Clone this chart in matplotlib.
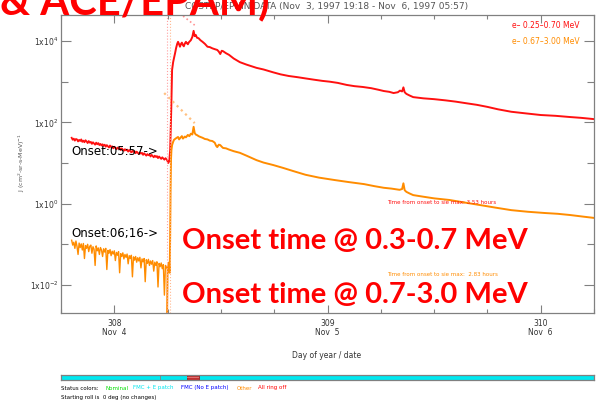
import numpy as np
import matplotlib
matplotlib.use('Agg')
import matplotlib.pyplot as plt
from matplotlib.patches import Rectangle

W, H = 608, 401

# time in day of year (1997), before onset
pre_t = [307.800, 307.805, 307.810, 307.815, 307.820, 307.825, 307.830, 307.835, 307.840, 307.845,
         307.850, 307.855, 307.860, 307.865, 307.870, 307.875, 307.880, 307.885, 307.890, 307.895,
         307.900, 307.905, 307.910, 307.915, 307.920, 307.925, 307.930, 307.935, 307.940, 307.945,
         307.950, 307.955, 307.960, 307.965, 307.970, 307.975, 307.980, 307.985, 307.990, 307.995,
         308.000, 308.005, 308.010, 308.015, 308.020, 308.025, 308.030, 308.035, 308.040, 308.045,
         308.050, 308.055, 308.060, 308.065, 308.070, 308.075, 308.080, 308.085, 308.090, 308.095,
         308.100, 308.105, 308.110, 308.115, 308.120, 308.125, 308.130, 308.135, 308.140, 308.145,
         308.150, 308.155, 308.160, 308.165, 308.170, 308.175, 308.180, 308.185, 308.190, 308.195,
         308.200, 308.205, 308.210, 308.215, 308.220, 308.225, 308.230, 308.235, 308.240, 308.245]

# log10 of intensity, e- 0.25-0.70 MeV, before onset
red_pre = [1.62, 1.57, 1.60, 1.55, 1.59, 1.58, 1.53, 1.57, 1.54, 1.58,
           1.52, 1.55, 1.51, 1.56, 1.53, 1.49, 1.54, 1.50, 1.52, 1.47,
           1.51, 1.48, 1.45, 1.50, 1.46, 1.49, 1.44, 1.47, 1.43, 1.46,
           1.42, 1.45, 1.40, 1.44, 1.41, 1.38, 1.43, 1.39, 1.41, 1.36,
           1.40, 1.37, 1.34, 1.38, 1.35, 1.37, 1.32, 1.36, 1.33, 1.30,
           1.34, 1.31, 1.33, 1.28, 1.32, 1.29, 1.26, 1.30, 1.27, 1.29,
           1.24, 1.28, 1.25, 1.22, 1.26, 1.23, 1.25, 1.20, 1.24, 1.21,
           1.18, 1.22, 1.19, 1.21, 1.16, 1.20, 1.17, 1.14, 1.18, 1.15,
           1.17, 1.12, 1.16, 1.13, 1.10, 1.14, 1.11, 1.08, 1.12, 1.09]

# log10 of intensity, e- 0.67-3.00 MeV, before onset
org_pre = [-0.90, -1.02, -0.95, -1.10, -0.92, -1.05, -1.25, -0.97, -1.08, -0.99,
           -1.14, -0.98, -1.35, -1.03, -1.10, -1.00, -1.18, -1.05, -1.02, -1.22,
           -1.06, -1.12, -1.52, -1.04, -1.16, -1.09, -1.25, -1.08, -1.14, -1.30,
           -1.11, -1.19, -1.10, -1.62, -1.15, -1.22, -1.13, -1.28, -1.17, -1.24,
           -1.16, -1.40, -1.20, -1.27, -1.18, -1.70, -1.23, -1.30, -1.21, -1.36,
           -1.25, -1.32, -1.24, -1.48, -1.28, -1.35, -1.27, -1.80, -1.31, -1.39,
           -1.30, -1.44, -1.33, -1.41, -1.32, -1.58, -1.36, -1.43, -1.35, -1.92,
           -1.38, -1.47, -1.37, -1.52, -1.41, -1.49, -1.40, -1.66, -1.44, -1.52,
           -1.43, -2.05, -1.47, -1.55, -1.46, -1.60, -1.50, -2.25, -1.52, -1.58]

red_evt_t = [308.248, 308.253, 308.258, 308.262, 308.265, 308.267, 308.271, 308.276, 308.280, 308.285,
             308.290, 308.295, 308.299, 308.304, 308.308, 308.313, 308.317, 308.322, 308.326, 308.331,
             308.336, 308.340, 308.345, 308.350, 308.359, 308.366, 308.372, 308.377, 308.382, 308.388,
             308.395, 308.404, 308.414, 308.425, 308.437, 308.448, 308.460, 308.471, 308.483, 308.490,
             308.497, 308.504, 308.510, 308.524, 308.538, 308.560, 308.589, 308.620, 308.667, 308.700,
             308.745, 308.780, 308.818, 308.860, 308.897, 308.935, 308.975, 309.010, 309.048, 309.090,
             309.126, 309.165, 309.205, 309.240, 309.264, 309.290, 309.310, 309.330, 309.340, 309.350,
             309.356, 309.362, 309.370, 309.385, 309.402, 309.450, 309.500, 309.554, 309.600, 309.650,
             309.701, 309.750, 309.800, 309.862, 309.930, 310.000, 310.070, 310.138, 310.190, 310.248]
red_evt = [1.07, 1.00, 1.05, 1.32, 1.90, 2.30, 3.29, 3.48, 3.58, 3.70,
           3.83, 3.93, 3.98, 3.92, 3.86, 3.93, 3.96, 3.90, 3.87, 3.94,
           3.98, 3.95, 3.92, 3.97, 4.02, 4.10, 4.25, 4.12, 4.15, 4.08,
           4.07, 4.02, 3.98, 3.93, 3.86, 3.85, 3.82, 3.80, 3.78, 3.74,
           3.68, 3.76, 3.75, 3.70, 3.66, 3.57, 3.48, 3.42, 3.34, 3.30,
           3.23, 3.18, 3.14, 3.11, 3.08, 3.05, 3.02, 3.00, 2.97, 2.92,
           2.89, 2.87, 2.84, 2.80, 2.77, 2.75, 2.72, 2.74, 2.78, 2.76,
           2.86, 2.74, 2.70, 2.66, 2.62, 2.59, 2.57, 2.54, 2.51, 2.47,
           2.43, 2.38, 2.32, 2.26, 2.22, 2.18, 2.16, 2.13, 2.11, 2.08]

org_evt_t = [308.247, 308.250, 308.256, 308.260, 308.262, 308.264, 308.266, 308.268, 308.271, 308.276,
             308.280, 308.290, 308.299, 308.304, 308.310, 308.317, 308.322, 308.331, 308.336, 308.345,
             308.352, 308.359, 308.366, 308.372, 308.377, 308.382, 308.390, 308.395, 308.404, 308.414,
             308.425, 308.437, 308.448, 308.460, 308.471, 308.478, 308.483, 308.490, 308.497, 308.504,
             308.510, 308.524, 308.538, 308.560, 308.589, 308.620, 308.667, 308.700, 308.745, 308.791,
             308.840, 308.897, 308.960, 309.034, 309.100, 309.172, 309.220, 309.264, 309.300, 309.338,
             309.350, 309.356, 309.362, 309.370, 309.385, 309.402, 309.450, 309.500, 309.572, 309.640,
             309.710, 309.790, 309.862, 309.940, 310.018, 310.080, 310.138, 310.200, 310.248]
org_evt = [-3.00, -1.60, -1.45, -1.70, -0.80, 0.40, 1.10, 1.32, 1.44, 1.52,
           1.57, 1.61, 1.64, 1.58, 1.62, 1.66, 1.60, 1.65, 1.63, 1.69,
           1.66, 1.72, 1.70, 1.89, 1.74, 1.70, 1.68, 1.66, 1.64, 1.62,
           1.59, 1.58, 1.55, 1.54, 1.50, 1.42, 1.39, 1.45, 1.44, 1.40,
           1.37, 1.36, 1.33, 1.29, 1.25, 1.18, 1.07, 1.01, 0.95, 0.88,
           0.80, 0.71, 0.64, 0.58, 0.53, 0.48, 0.43, 0.39, 0.37, 0.34,
           0.36, 0.50, 0.33, 0.29, 0.25, 0.21, 0.17, 0.13, 0.09, 0.03,
           -0.03, -0.10, -0.16, -0.20, -0.23, -0.25, -0.28, -0.32, -0.35]

# faint fitted segments near the onset
red_fit_t = [308.290, 308.377]
red_fit = [4.75, 4.39]
org_fit_t = [308.234, 308.377]
org_fit = [2.72, 1.98]

onset_red = 308.248
onset_org = 308.261

day_ticks = [308, 309, 310]
day_labels = ['308\nNov  4', '309\nNov  5', '310\nNov  6']
dec_ticks = [-2, 0, 2, 4]
dec_minor = [-1, 1, 3]

status_names = ['Status colors:', 'Nominal', 'FMC + E patch', 'FMC (No E patch)', 'Other', 'All ring off']
status_cols = ['black', '#00dd00', '#00e5ee', '#0000ff', '#ff8c00', '#ff0000']
status_x = [61, 105, 133, 181, 237, 258]

RED = '#ff1010'
ORG = '#ff8c00'
GREY = '#808080'


def fx(x):
    return x / W


def fy(y):
    return 1 - y / H


def main():
    fig = plt.figure(figsize=(W / 100, H / 100), dpi=100)
    ax = fig.add_axes([fx(61), fy(313), (594 - 61) / W, (313 - 15) / H])
    ax.set_yscale('log')

    ax.plot(pre_t, 10 ** np.array(red_pre), color=RED, lw=1.3)
    ax.plot(red_evt_t, 10 ** np.array(red_evt), color=RED, lw=1.4)
    ax.plot(pre_t, 10 ** np.array(org_pre), color=ORG, lw=1.0)
    ax.plot(org_evt_t, 10 ** np.array(org_evt), color=ORG, lw=1.4)
    ax.plot(red_fit_t, 10 ** np.array(red_fit), color='#ff9090', lw=1.2, ls=':')
    ax.plot(org_fit_t, 10 ** np.array(org_fit), color='#ffc080', lw=1.6, ls=':')
    ax.axvline(onset_red, color='#ffa0a0', lw=0.8, ls=':')
    ax.axvline(onset_org, color='#ffb890', lw=0.8, ls=':')

    ax.set_xlim(307.798, 310.248)
    ax.set_ylim(10 ** -2.69, 10 ** 4.64)
    ax.set_yticks([10.0 ** d for d in dec_ticks])
    ax.set_yticklabels(['1x10$^{%d}$' % d for d in dec_ticks])
    ax.set_yticks([10.0 ** d for d in dec_minor], minor=True)
    ax.set_yticklabels([], minor=True)
    ax.set_xticks(day_ticks)
    ax.set_xticklabels(day_labels, linespacing=1.0)
    ax.set_xticks(np.arange(307.75, 310.3, 0.25), minor=True)
    ax.tick_params(which='both', direction='in', top=True, right=True,
                   colors=GREY, labelcolor='#333333', labelsize=5.5, width=0.8)
    ax.tick_params(axis='y', which='major', length=7, pad=2)
    ax.tick_params(axis='y', which='minor', length=5)
    ax.tick_params(axis='x', which='major', length=6, pad=4)
    ax.tick_params(axis='x', which='minor', length=3)
    for s in ax.spines.values():
        s.set_color(GREY)
        s.set_linewidth(0.9)

    # status bar
    sb = fig.add_axes([fx(61), fy(380), (594 - 61) / W, 5 / H])
    sb.set_xlim(307.798, 310.248)
    sb.set_ylim(0, 1)
    sb.axvspan(307.798, 310.248, color='#00e8f0')
    sb.add_patch(Rectangle((308.377, 0.0), 0.055, 1.0, facecolor='#c03030',
                           edgecolor='#a02020', lw=0.6))
    sb.add_patch(Rectangle((308.377, 0.4), 0.055, 0.2, facecolor='#e07070', lw=0))
    sb.axvline(308.253, color=GREY, lw=0.6)
    sb.set_xticks([])
    sb.set_yticks([])
    for s in sb.spines.values():
        s.set_color(GREY)
        s.set_linewidth(0.9)

    # texts
    fig.text(fx(327), fy(7), 'COSTEP/EPHIN DATA (Nov  3, 1997 19:18 - Nov  6, 1997 05:57)',
             ha='center', va='center', fontsize=6.5, color='#555555')
    fig.text(fx(580), fy(26), 'e\u2013 0.25\u20130.70 MeV', ha='right', va='center',
             fontsize=5.5, color=RED)
    fig.text(fx(580), fy(41), 'e\u2013 0.67\u20133.00 MeV', ha='right', va='center',
             fontsize=5.5, color=ORG)
    fig.text(fx(22), fy(163), 'J (cm$^2$-sr-s-MeV)$^{-1}$', rotation=90,
             ha='center', va='center', fontsize=4.5, color='#555555')
    fig.text(fx(327), fy(355), 'Day of year / date', ha='center', va='center',
             fontsize=5.5, color='#333333')
    fig.text(fx(158), fy(152), 'Onset:05:57->', ha='right', va='center', fontsize=8.5)
    fig.text(fx(158), fy(234), 'Onset:06;16->', ha='right', va='center', fontsize=8.5)
    fig.text(fx(387), fy(203), 'Time from onset to sie max: 3.53 hours', ha='left',
             va='center', fontsize=4, color=RED)
    fig.text(fx(387), fy(274), 'Time from onset to sie max:  2.83 hours', ha='left',
             va='center', fontsize=4, color=ORG)

    for name, col, x in zip(status_names, status_cols, status_x):
        fig.text(fx(x), fy(388), name, ha='left', va='center', fontsize=4, color=col)
    fig.text(fx(61), fy(397), 'Starting roll is  0 deg (no changes)', ha='left',
             va='center', fontsize=4, color='black')

    big = dict(family='Lato', weight='bold', color='#ff0000')
    fig.text(fx(182), fy(249), 'Onset time @ 0.3-0.7 MeV', ha='left', va='baseline',
             fontsize=21, **big)
    fig.text(fx(182), fy(303), 'Onset time @ 0.7-3.0 MeV', ha='left', va='baseline',
             fontsize=21, **big)
    fig.text(fx(0), fy(14), '& ACE/EPAM)', ha='left', va='baseline', fontsize=30, **big)

    fig.savefig('out.png', dpi=100)


if __name__ == "__main__":
    main()
